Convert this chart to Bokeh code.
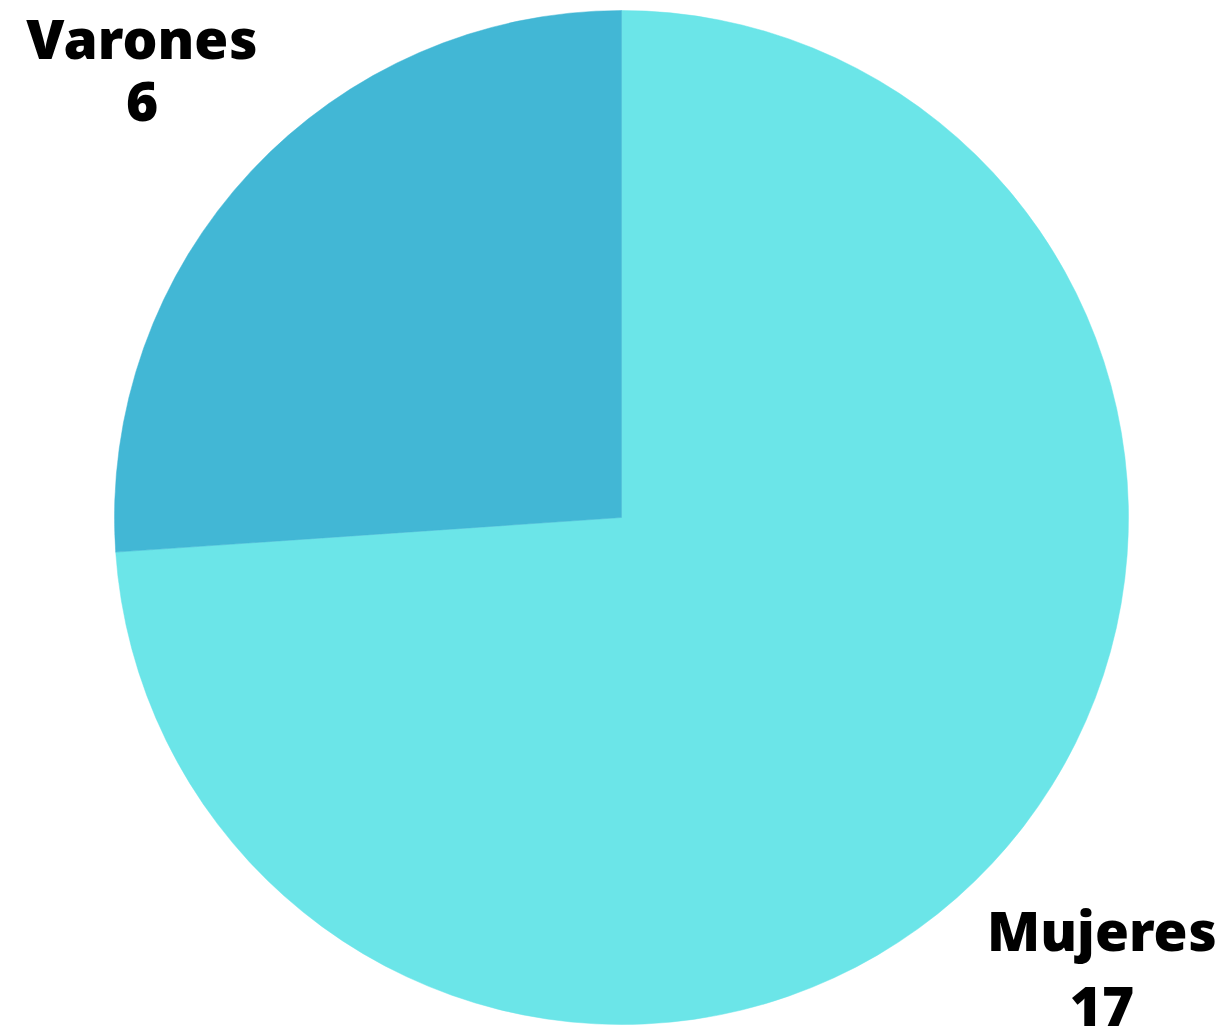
import math
from bokeh.plotting import figure
from bokeh.models import Range1d, ColumnDataSource
from bokeh.core.properties import value
from bokeh.embed import file_html
from bokeh.resources import INLINE

categories = ["Mujeres", "Varones"]
counts = [17, 6]
colors = ["#6BE5E8", "#42B7D5"]

W, H = 1226, 1031
cx, cy, R = 621, 514, 507

total = sum(counts)
starts, ends = [], []
acc = 0
for c in counts:
    # clockwise from 12 o'clock
    a0 = math.pi / 2 - 2 * math.pi * acc / total
    acc += c
    a1 = math.pi / 2 - 2 * math.pi * acc / total
    starts.append(a1)
    ends.append(a0)

src = ColumnDataSource(dict(cat=categories, val=counts, color=colors,
                            start=starts, end=ends))

p = figure(width=W, height=H, output_backend="svg", toolbar_location=None,
           x_range=Range1d(0, W), y_range=Range1d(0, H), min_border=0,
           outline_line_color=None, background_fill_color="white")
p.axis.visible = False
p.grid.visible = False

p.wedge(x=cx, y=cy, radius=R, start_angle="start", end_angle="end",
        fill_color="color", line_color="color", line_width=0.5, source=src)

# label placement (name line and value line) per category
name_x = [1101.5, 141.5]
name_y = [102, 994]
val_y = [25, 930]

lab = ColumnDataSource(dict(x=name_x, y=name_y, t=categories))
num = ColumnDataSource(dict(x=name_x, y=val_y, t=[str(v) for v in counts]))
for s in (lab, num):
    p.text(x="x", y="y", text="t", source=s, text_align="center",
           text_baseline="alphabetic", text_font=value("Open Sans ExtraBold"),
           text_font_style="bold", text_font_size="55px", text_color="black")

open("out.html", "w").write(file_html(p, INLINE))
